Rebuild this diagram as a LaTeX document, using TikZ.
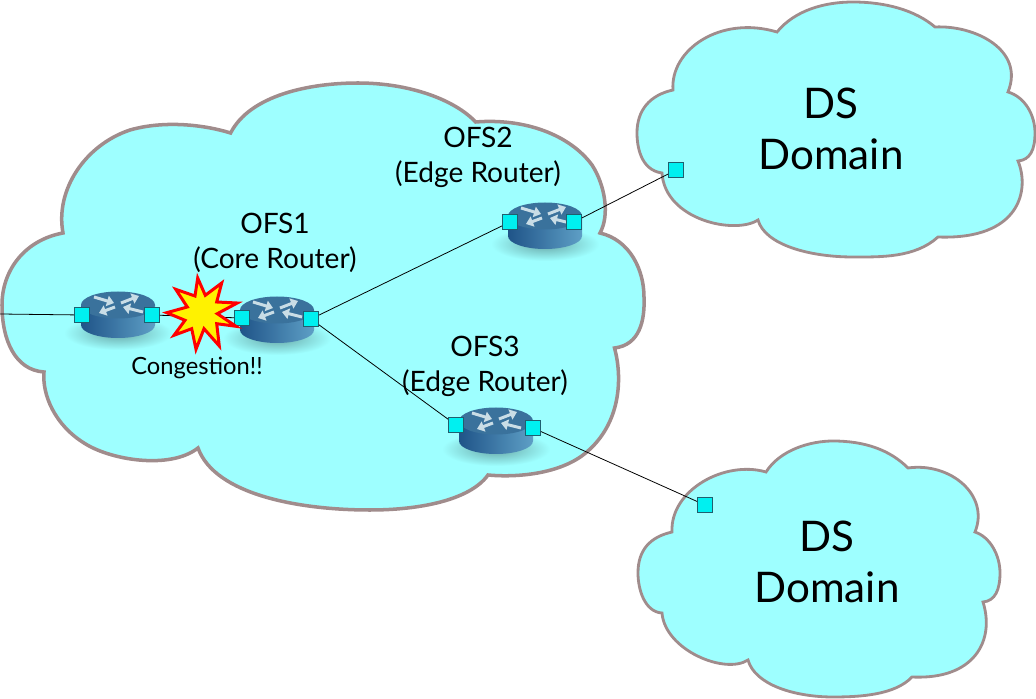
\documentclass[tikz,border=0pt]{standalone}
\usepackage{fontspec}
\setmainfont{Lato}
\usetikzlibrary{arrows.meta}
\definecolor{cloudfill}{HTML}{9EFFFF}
\definecolor{cloudline}{HTML}{A08C8C}
\definecolor{portfill}{HTML}{00F0F0}
\definecolor{portline}{HTML}{1F5F6F}
\definecolor{rtrdark}{HTML}{1F5488}
\definecolor{rtrlight}{HTML}{5E9FC6}
\definecolor{rtrtop}{HTML}{3A729C}
\definecolor{rtrarrow}{HTML}{C9DDE6}
\tikzset{
	cloud/.style={draw=cloudline,fill=cloudfill,line width=1.6pt},
	port/.style={draw=portline,fill=portfill,line width=0.5pt,minimum size=0.3cm,inner sep=0pt},
	link/.style={black,line width=0.45pt},
	label/.style={align=center,inner sep=0pt,font=\fontsize{16}{20}\selectfont},
	dslabel/.style={align=center,inner sep=0pt,font=\fontsize{24}{29}\selectfont},
	rtrarr/.style={rtrarrow,line width=1.7pt,-{Triangle[length=4pt,width=6pt]}},
	pics/router/.style={code={
		\shade [inner color=black!35!cloudfill,outer color=cloudfill] (0,28) ellipse (54 and 17);
		\shade [left color=rtrdark,right color=rtrlight] (-37,0) -- (-37,20) arc (180:0:37 and 13) -- (37,0) -- cycle;
		\fill [rtrtop] (0,0) ellipse (37 and 13.5);
		\draw [rtrarr] (-24,-8) -- (-4,-2);
		\draw [rtrarr] (3,-2) -- (21,-9);
		\draw [rtrarr] (-3,2) -- (-19,8);
		\draw [rtrarr] (25,7) -- (5,2);
	}}
}
\begin{document}
\begin{tikzpicture}[x=0.02cm,y=-0.02cm]
	\useasboundingbox (0,0) rectangle (1036,699);
	% clouds
	\draw [cloud,line width=2pt] (230.6,133) .. controls (250,95) and (310,83) .. (358,83)
		.. controls (410,83) and (455,100) .. (475.6,122)
		.. controls (525,118) and (570,135) .. (592,165)
		.. controls (605,185) and (610,215) .. (600,233)
		.. controls (630,240) and (644,270) .. (644,297)
		.. controls (645,320) and (640,345) .. (614.5,348)
		.. controls (622,375) and (622,420) .. (589,450)
		.. controls (565,473) and (520,478) .. (488,475)
		.. controls (470,500) and (420,510) .. (370,510)
		.. controls (300,510) and (215,495) .. (198,448)
		.. controls (170,470) and (110,460) .. (84,443)
		.. controls (55,425) and (42,395) .. (44,372)
		.. controls (15,370) and (2,340) .. (2,305)
		.. controls (2,270) and (25,240) .. (63,233)
		.. controls (55,190) and (85,145) .. (130,130)
		.. controls (165,120) and (205,125) .. (230.6,133) -- cycle;
	\draw [cloud] (777,32) .. controls (795,10) and (825,2) .. (853,2)
		.. controls (885,2) and (915,10) .. (935,27)
		.. controls (975,25) and (1025,50) .. (1008,92)
		.. controls (1025,97) and (1035,115) .. (1035,133)
		.. controls (1035,150) and (1030,160) .. (1018,161)
		.. controls (1030,190) and (1020,240) .. (938,237)
		.. controls (915,258) and (880,257) .. (853,257)
		.. controls (810,257) and (765,245) .. (758,220)
		.. controls (735,235) and (665,220) .. (662,173)
		.. controls (640,170) and (637,145) .. (637,133)
		.. controls (637,110) and (650,95) .. (673,90)
		.. controls (670,50) and (720,15) .. (777,32) -- cycle;
	\draw [cloud] (766,472) .. controls (780,450) and (810,441) .. (833,441)
		.. controls (865,441) and (890,450) .. (908,468)
		.. controls (950,462) and (990,495) .. (975,532)
		.. controls (990,537) and (1000,555) .. (1000,573)
		.. controls (1000,590) and (995,601) .. (983,602)
		.. controls (995,640) and (975,680) .. (912,677)
		.. controls (895,695) and (860,697) .. (833,697)
		.. controls (795,697) and (755,685) .. (748,660)
		.. controls (725,675) and (665,650) .. (662,613)
		.. controls (645,612) and (638,590) .. (638,573)
		.. controls (638,550) and (650,537) .. (672,532)
		.. controls (670,490) and (725,460) .. (766,472) -- cycle;
	% routers
	\pic (rtrin) at (118,305) {router};
	\pic (rtrone) at (277,310) {router};
	\pic (rtrtwo) at (545,216) {router};
	\pic (rtrthree) at (496,421) {router};
	% ports
	\coordinate (wan) at (0,314);
	\node [port] (inl) at (82,315) {};
	\node [port] (inr) at (152,315) {};
	\node [port] (onel) at (242,318) {};
	\node [port] (oner) at (311,319) {};
	\node [port] (twol) at (510,222) {};
	\node [port] (twor) at (574,222) {};
	\node [port] (threel) at (456,425) {};
	\node [port] (threer) at (533,428) {};
	\node [port] (dstop) at (676,170) {};
	\node [port] (dsbot) at (705,505) {};
	% links
	\draw [link] (wan) -- (inl);
	\draw [link] (inr) -- (onel);
	\draw [link] (oner) -- (twol);
	\draw [link] (oner) -- (threel);
	\draw [link] (twor) -- (dstop);
	\draw [link] (threer) -- (dsbot);
	% burst
	\draw [red,fill=yellow,line width=1.7pt,miter limit=10] (197.7,278) -- (205.3,295.3) -- (221.7,283) -- (216.7,302) -- (237.3,303) -- (217.3,313.7) -- (236,326.3) -- (216.7,323.7) -- (219.3,346) -- (204,328.7) -- (196,349.3) -- (191.7,328.7) -- (174,335.3) -- (185,320.3) -- (166.7,312.7) -- (187.3,307) -- (175.7,289.3) -- (195,296) -- cycle;
	% labels
	\node [label] (onetxt) at (275,242.5) {OFS1\\(Core Router)};
	\node [label] (twotxt) at (478,157) {OFS2\\(Edge Router)};
	\node [label] (threetxt) at (485,366) {OFS3\\(Edge Router)};
	\node [label,font=\fontsize{13.5}{16}\selectfont] (congtxt) at (197,368) {Congestion!!};
	\node [dslabel] (dstoptxt) at (831,129) {DS\\Domain};
	\node [dslabel] (dsbottxt) at (827,562) {DS\\Domain};
\end{tikzpicture}
\end{document}
